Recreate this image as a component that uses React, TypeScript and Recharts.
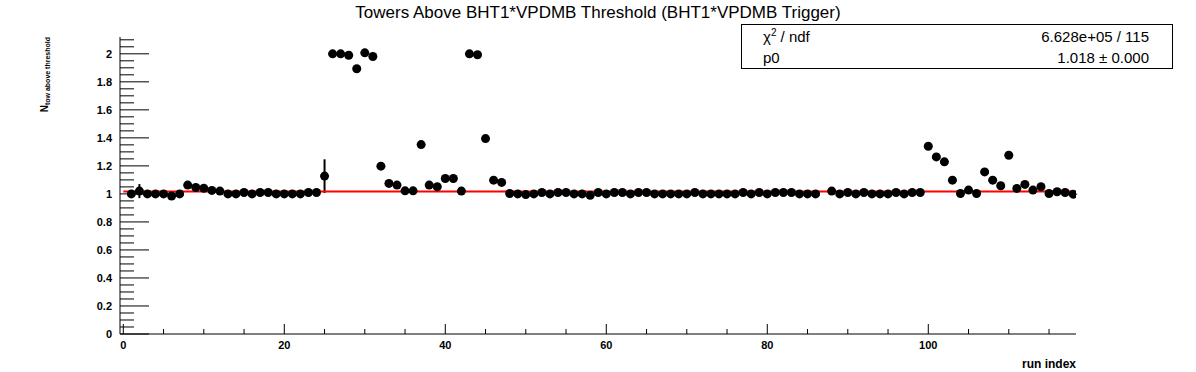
import React from 'react';
import { ComposedChart, Scatter, XAxis, YAxis, ErrorBar, ReferenceLine } from 'recharts';

// run indices (run 87 has no entry)
const runs = [
  1, 2, 3, 4, 5, 6, 7, 8, 9, 10,
  11, 12, 13, 14, 15, 16, 17, 18, 19, 20,
  21, 22, 23, 24, 25, 26, 27, 28, 29, 30,
  31, 32, 33, 34, 35, 36, 37, 38, 39, 40,
  41, 42, 43, 44, 45, 46, 47, 48, 49, 50,
  51, 52, 53, 54, 55, 56, 57, 58, 59, 60,
  61, 62, 63, 64, 65, 66, 67, 68, 69, 70,
  71, 72, 73, 74, 75, 76, 77, 78, 79, 80,
  81, 82, 83, 84, 85, 86, 88, 89, 90,
  91, 92, 93, 94, 95, 96, 97, 98, 99, 100,
  101, 102, 103, 104, 105, 106, 107, 108, 109, 110,
  111, 112, 113, 114, 115, 116, 117, 118,
];

const towersAbove = [
  1.0, 1.02, 1.0, 1.0, 1.0, 0.985, 1.0, 1.063, 1.046, 1.04,
  1.025, 1.02, 1.0, 1.0, 1.01, 1.0, 1.01, 1.01, 1.0, 1.0,
  1.0, 1.0, 1.01, 1.01, 1.127, 2.0, 2.0, 1.99, 1.893, 2.007,
  1.981, 1.198, 1.075, 1.063, 1.022, 1.022, 1.352, 1.063, 1.051, 1.11,
  1.11, 1.02, 2.0, 1.993, 1.395, 1.098, 1.082, 1.003, 1.0, 0.995,
  1.0, 1.01, 1.0, 1.01, 1.01, 1.0, 1.0, 0.99, 1.01, 1.0,
  1.01, 1.01, 1.0, 1.01, 1.01, 1.0, 1.0, 1.0, 1.0, 1.0,
  1.01, 1.0, 1.0, 1.0, 1.0, 1.0, 1.01, 1.0, 1.01, 1.0,
  1.01, 1.01, 1.01, 1.0, 1.0, 1.0, 1.02, 1.0, 1.01,
  1.0, 1.01, 1.0, 1.0, 1.0, 1.01, 1.0, 1.01, 1.01, 1.34,
  1.264, 1.229, 1.098, 1.003, 1.027, 1.003, 1.157, 1.098, 1.058, 1.276,
  1.039, 1.068, 1.027, 1.051, 1.003, 1.015, 1.01, 0.998,
];

// only two runs have error bars large enough to see
const errorRuns = [2, 25];
const errorSizes = [0.05, 0.12];

const fitP0 = 1.018;
const fitFrom = 0;
const fitTo = 118;

const xTicks = [0, 5, 10, 15, 20, 25, 30, 35, 40, 45, 50, 55, 60, 65, 70, 75, 80, 85, 90, 95, 100, 105, 110, 115];
const xLabels = [0, 20, 40, 60, 80, 100];
const yTicks = [
  0, 0.05, 0.1, 0.15, 0.2, 0.25, 0.3, 0.35, 0.4, 0.45, 0.5, 0.55, 0.6, 0.65, 0.7, 0.75,
  0.8, 0.85, 0.9, 0.95, 1, 1.05, 1.1, 1.15, 1.2, 1.25, 1.3, 1.35, 1.4, 1.45, 1.5, 1.55,
  1.6, 1.65, 1.7, 1.75, 1.8, 1.85, 1.9, 1.95, 2, 2.05, 2.1,
];
const yLabels = [0, 0.2, 0.4, 0.6, 0.8, 1, 1.2, 1.4, 1.6, 1.8, 2];

const W = 1196;
const H = 372;
const LEFT = 120;
const RIGHT = 1076;
const TOP = 37;
const BOTTOM = 334;
const FONT = '"Liberation Sans", Arial, Helvetica, sans-serif';

const data = runs.map((run, i) => {
  const k = errorRuns.indexOf(run);
  return { run, val: towersAbove[i], ey: k >= 0 ? errorSizes[k] : 0, ex: 0.5 };
});

const YTick = (props: any) => {
  const { y, payload } = props;
  const v = payload.value;
  const major = yLabels.some((l) => Math.abs(l - v) < 1e-6);
  return (
    <g>
      <line x1={LEFT} x2={LEFT + (major ? 29 : 14)} y1={y} y2={y} stroke="#000" strokeWidth={1} />
      {major && (
        <text x={112} y={y + 4} textAnchor="end" fontFamily={FONT} fontWeight="bold" fontSize={11} fill="#000">
          {String(v)}
        </text>
      )}
    </g>
  );
};

const XTick = (props: any) => {
  const { x, payload } = props;
  const v = payload.value;
  const major = xLabels.includes(v);
  return (
    <g>
      <line x1={x} x2={x} y1={BOTTOM} y2={BOTTOM - (major ? 10 : 5)} stroke="#000" strokeWidth={1} />
      {major && (
        <text x={x} y={BOTTOM + 15} textAnchor="middle" fontFamily={FONT} fontWeight="bold" fontSize={11} fill="#000">
          {String(v)}
        </text>
      )}
    </g>
  );
};

const Dot = (props: any) => <circle cx={props.cx} cy={props.cy} r={4.5} fill="#000" />;

export default function App() {
  return (
    <div style={{ position: 'absolute', left: 0, top: 0, width: W, height: H, background: '#fff' }}>
      <ComposedChart
        width={W}
        height={H}
        data={data}
        margin={{ top: TOP, right: W - RIGHT, bottom: 8, left: 0 }}
      >
        <XAxis
          dataKey="run"
          type="number"
          domain={[-0.41, 118.35]}
          allowDataOverflow
          ticks={xTicks}
          interval={0}
          tickLine={false}
          tick={<XTick />}
          axisLine={{ stroke: '#000', strokeWidth: 1 }}
          height={H - BOTTOM - 8}
        />
        <XAxis xAxisId="top" orientation="top" type="number" domain={[-0.41, 118.35]} tick={false} tickLine={false} axisLine={{ stroke: '#000' }} height={0} />
        <YAxis
          type="number"
          domain={[0, 2.12]}
          allowDataOverflow
          ticks={yTicks}
          interval={0}
          tickLine={false}
          tick={<YTick />}
          axisLine={{ stroke: '#000', strokeWidth: 1 }}
          width={LEFT}
        />
        <YAxis yAxisId="right" orientation="right" type="number" domain={[0, 2.12]} tick={false} tickLine={false} axisLine={{ stroke: '#000' }} width={0} />
        <Scatter dataKey="val" fill="#000" shape={<Dot />} isAnimationActive={false}>
          <ErrorBar dataKey="ey" direction="y" width={0} stroke="#000" strokeWidth={2} />
          <ErrorBar dataKey="ex" direction="x" width={0} stroke="#000" strokeWidth={1} />
        </Scatter>
        <ReferenceLine
          segment={[{ x: fitFrom, y: fitP0 }, { x: fitTo, y: fitP0 }]}
          stroke="#ff0000"
          strokeWidth={2}
        />
      </ComposedChart>
      <svg width={W} height={H} style={{ position: 'absolute', left: 0, top: 0, pointerEvents: 'none' }}>
        <text x={598} y={18} textAnchor="middle" fontFamily={FONT} fontSize={17} fill="#000">
          Towers Above BHT1*VPDMB Threshold (BHT1*VPDMB Trigger)
        </text>
        <g transform="translate(48, 37) rotate(-90)">
          <text x={0} y={0} textAnchor="end" fontFamily={FONT} fontWeight="bold" fill="#000">
            <tspan fontSize={10}>N</tspan>
            <tspan fontSize={7} dy={2}>tow above threshold</tspan>
          </text>
        </g>
        <text x={RIGHT} y={368} textAnchor="end" fontFamily={FONT} fontWeight="bold" fontSize={12} fill="#000">
          run index
        </text>
        <rect x={741.5} y={24.5} width={431} height={44} fill="#fff" stroke="#000" strokeWidth={1} />
        <text x={763} y={42} fontFamily={FONT} fontSize={15} fill="#000">
          χ<tspan fontSize={10} dy={-6}>2</tspan>
          <tspan dy={6}> / ndf</tspan>
        </text>
        <text x={1149} y={42} textAnchor="end" fontFamily={FONT} fontSize={15} fill="#000">
          6.628e+05 / 115
        </text>
        <text x={763} y={63} fontFamily={FONT} fontSize={15} fill="#000">
          p0
        </text>
        <text x={1149} y={63} textAnchor="end" fontFamily={FONT} fontSize={15} fill="#000">
          {fitP0.toFixed(3)} ± 0.000
        </text>
      </svg>
    </div>
  );
}
